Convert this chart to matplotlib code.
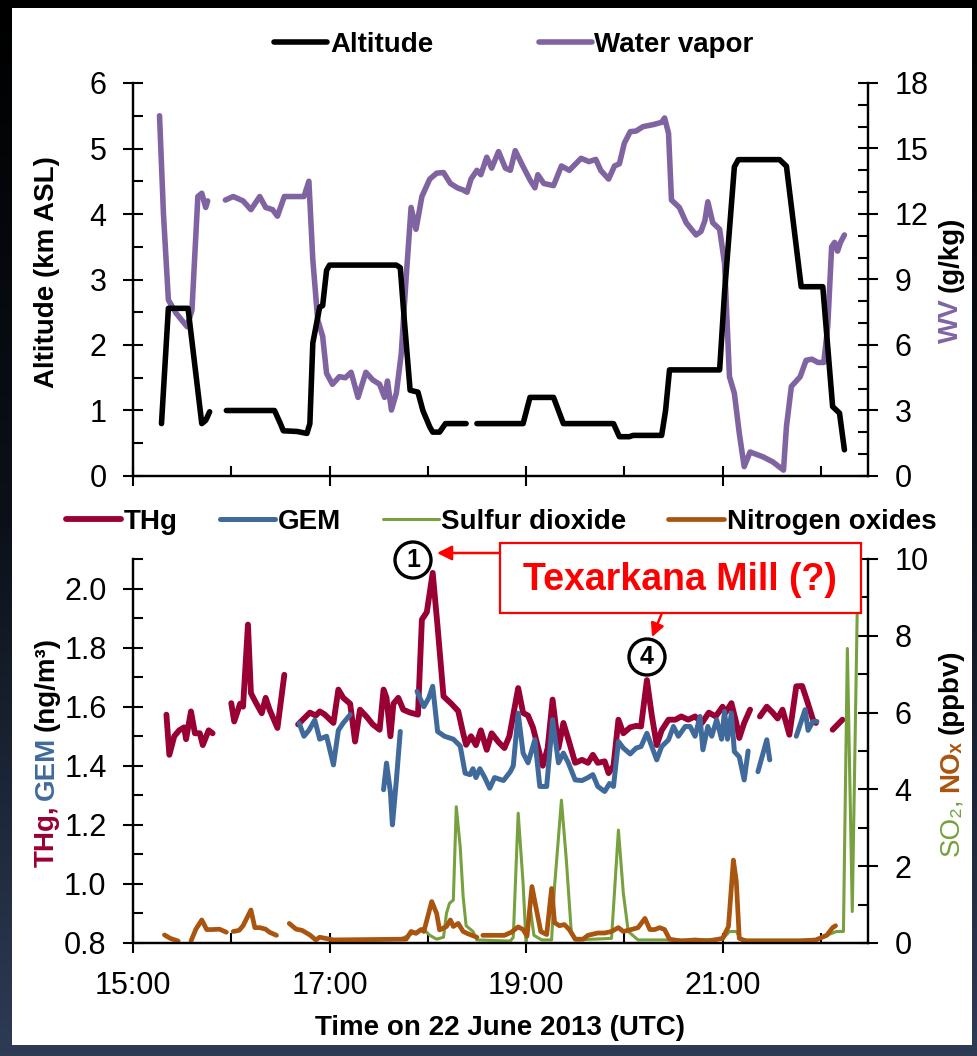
import numpy as np
import matplotlib
matplotlib.use('Agg')
import matplotlib.pyplot as plt
from matplotlib import patches
from matplotlib.colors import LinearSegmentedColormap
from matplotlib.ticker import MultipleLocator

plt.rcParams['font.family'] = ['Liberation Sans', 'DejaVu Sans']

nan = np.nan

# time in decimal hours (UTC), nan = gap in the record
alt_t = [15.29, 15.36, 15.40, 15.56, 15.70, 15.74, 15.78, 15.86,
         15.95, 16.44, 16.50, 16.53, 16.67, 16.77, 16.80, 16.83, 16.90, 16.93, 16.97, 17.00,
         17.68, 17.72, 17.76, 17.82, 17.90, 17.95, 18.02, 18.05, 18.12, 18.18, 18.39, 18.45,
         18.50, 18.97, 19.04, 19.28, 19.38, 19.89, 19.95, 20.05, 20.09, 20.38, 20.42, 20.46,
         20.97, 21.02, 21.12, 21.16, 21.58, 21.65, 21.80, 22.02, 22.12, 22.19, 22.24]
alt_v = [0.80, 2.56, 2.56, 2.56, 0.80, 0.85, 0.98, nan,
         1.00, 1.00, 0.80, 0.69, 0.68, 0.65, 0.80, 2.03, 2.58, 2.60, 3.14, 3.22,
         3.22, 3.18, 2.40, 1.31, 1.28, 1.00, 0.75, 0.67, 0.67, 0.80, 0.80, nan,
         0.80, 0.80, 1.20, 1.20, 0.80, 0.80, 0.60, 0.60, 0.62, 0.62, 1.00, 1.62,
         1.62, 2.80, 4.72, 4.83, 4.83, 4.73, 2.89, 2.89, 1.06, 0.96, 0.40]

wv_t = [15.27, 15.31, 15.36, 15.44, 15.55, 15.60, 15.66, 15.70, 15.74, 15.76, 15.85,
        15.94, 16.02, 16.12, 16.20, 16.29, 16.35, 16.42, 16.47, 16.54, 16.62, 16.69, 16.74,
        16.79, 16.83, 16.88, 16.93, 16.97, 17.03, 17.10, 17.16, 17.22, 17.29, 17.37, 17.44,
        17.51, 17.56, 17.59, 17.63, 17.68, 17.73, 17.78, 17.83, 17.88, 17.94, 18.02, 18.09,
        18.16, 18.23, 18.30, 18.36, 18.40, 18.44, 18.50, 18.54, 18.60, 18.65, 18.72, 18.79,
        18.84, 18.89, 18.97, 19.04, 19.09, 19.12, 19.18, 19.28, 19.36, 19.44, 19.56, 19.64,
        19.71, 19.76, 19.84, 19.90, 19.95, 20.00, 20.06, 20.12, 20.19, 20.30, 20.38, 20.41,
        20.45, 20.48, 20.56, 20.63, 20.73, 20.78, 20.82, 20.85, 20.90, 20.97, 21.02, 21.07,
        21.12, 21.17, 21.22, 21.28, 21.41, 21.51, 21.62, 21.65, 21.70, 21.79, 21.85, 21.91,
        21.97, 22.03, 22.07, 22.11, 22.14, 22.17, 22.20, 22.24]
wv_v = [16.5, 12.0, 8.06, 7.45, 6.84, 7.6, 12.8, 12.95, 12.3, 12.6, nan,
        12.64, 12.8, 12.6, 12.2, 12.8, 12.3, 12.2, 11.9, 12.8, 12.8, 12.8, 12.8,
        13.5, 9.9, 7.15, 6.4, 4.7, 4.2, 4.55, 4.5, 4.75, 3.6, 4.75, 4.4,
        4.2, 3.6, 4.35, 3.02, 3.8, 5.6, 9.1, 12.3, 11.3, 12.8, 13.6, 13.87,
        13.9, 13.4, 13.2, 13.1, 13.0, 13.6, 14.0, 13.8, 14.6, 14.1, 14.86, 14.1,
        14.0, 14.9, 14.17, 13.56, 13.2, 13.8, 13.4, 13.3, 14.2, 14.0, 14.55, 14.4,
        14.5, 14.0, 13.6, 14.2, 14.3, 15.24, 15.77, 15.8, 16.0, 16.1, 16.2, 16.4,
        15.7, 12.64, 12.3, 11.6, 11.04, 11.2, 11.7, 12.56, 11.6, 11.3, 9.74, 4.55,
        3.79, 1.96, 0.43, 1.1, 0.88, 0.65, 0.27, 2.26, 4.1, 4.55, 5.3, 5.35,
        5.2, 5.2, 6.84, 10.5, 10.7, 10.3, 10.7, 11.04]

thg_t = [15.34, 15.37, 15.42, 15.47, 15.52, 15.54, 15.59, 15.63, 15.68, 15.71, 15.77, 15.81, 15.9,
         16.00, 16.03, 16.09, 16.12, 16.17, 16.20, 16.24, 16.31, 16.35, 16.39, 16.47, 16.54, 16.6,
         16.68, 16.74, 16.80, 16.86, 16.90, 16.95, 17.04, 17.09, 17.14, 17.21, 17.26, 17.31,
         17.38, 17.44, 17.51, 17.55, 17.58, 17.62, 17.65, 17.70, 17.75, 17.82, 17.90, 17.94,
         17.99, 18.05, 18.10, 18.16, 18.24, 18.31, 18.36, 18.39, 18.44, 18.49, 18.54, 18.60,
         18.65, 18.72, 18.78, 18.83, 18.92, 18.97, 19.02, 19.07, 19.12, 19.17, 19.22, 19.27,
         19.33, 19.38, 19.43, 19.50, 19.57, 19.63, 19.68, 19.73, 19.80, 19.84, 19.89, 19.94,
         19.99, 20.06, 20.12, 20.17, 20.23, 20.28, 20.33, 20.38, 20.45, 20.52, 20.58, 20.65,
         20.72, 20.79, 20.86, 20.93, 21.00, 21.03, 21.09, 21.14, 21.17, 21.22, 21.28, 21.33,
         21.38, 21.45, 21.51, 21.56, 21.61, 21.68, 21.75, 21.81, 21.86, 21.92, 21.95, 22.05,
         22.12, 22.22]
thg_v = [1.573, 1.437, 1.50, 1.52, 1.53, 1.49, 1.584, 1.51, 1.51, 1.47, 1.52, 1.51, nan,
         1.612, 1.55, 1.61, 1.60, 1.878, 1.646, 1.62, 1.578, 1.63, 1.59, 1.528, 1.708, nan,
         1.54, 1.56, 1.58, 1.57, 1.584, 1.574, 1.545, 1.658, 1.63, 1.61, 1.482, 1.59,
         1.565, 1.54, 1.522, 1.658, 1.63, 1.50, 1.61, 1.63, 1.59, 1.58, 1.573, 1.895,
         1.92, 2.053, 1.87, 1.635, 1.61, 1.585, 1.51, 1.471, 1.50, 1.47, 1.52, 1.454,
         1.51, 1.48, 1.46, 1.50, 1.663, 1.579, 1.57, 1.53, 1.465, 1.40, 1.46, 1.624,
         1.46, 1.545, 1.49, 1.41, 1.42, 1.41, 1.437, 1.41, 1.415, 1.375, 1.40, 1.556,
         1.51, 1.53, 1.535, 1.533, 1.69, 1.57, 1.47, 1.52, 1.556, 1.556, 1.567, 1.556,
         1.567, 1.545, 1.58, 1.567, 1.60, 1.58, 1.612, 1.545, 1.494, 1.545, 1.59, nan,
         1.567, 1.60, 1.58, 1.56, 1.59, 1.505, 1.669, 1.67, 1.62, 1.556, 1.545, nan,
         1.522, 1.556]

gem_t = [16.69, 16.74, 16.79, 16.85, 16.90, 16.97, 17.04, 17.09, 17.14, 17.21, 17.4,
         17.55, 17.58, 17.62, 17.64, 17.68, 17.72, 17.8,
         17.89, 17.96, 18.01, 18.05, 18.10, 18.17, 18.26, 18.33, 18.38, 18.43, 18.46, 18.49,
         18.53, 18.58, 18.63, 18.68, 18.77, 18.84, 18.87, 18.92, 18.97, 19.02, 19.09, 19.14,
         19.21, 19.27, 19.33, 19.38, 19.43, 19.50, 19.57, 19.63, 19.68, 19.73, 19.80, 19.85,
         19.89, 19.94, 19.99, 20.06, 20.12, 20.17, 20.23, 20.28, 20.33, 20.38, 20.45, 20.50,
         20.55, 20.62, 20.67, 20.72, 20.77, 20.80, 20.85, 20.89, 20.94, 20.99, 21.02, 21.05,
         21.09, 21.12, 21.17, 21.22, 21.26, 21.31,
         21.36, 21.45, 21.48, 21.6,
         21.75, 21.80, 21.84, 21.87, 21.92, 21.96]
gem_v = [1.545, 1.50, 1.52, 1.555, 1.49, 1.50, 1.403, 1.52, 1.545, 1.573, nan,
         1.319, 1.409, 1.31, 1.20, 1.35, 1.516, nan,
         1.652, 1.60, 1.63, 1.669, 1.516, 1.50, 1.49, 1.467, 1.375, 1.37, 1.39, 1.36,
         1.39, 1.36, 1.324, 1.36, 1.35, 1.38, 1.40, 1.578, 1.443, 1.41, 1.488, 1.33,
         1.33, 1.556, 1.41, 1.443, 1.41, 1.352, 1.35, 1.36, 1.37, 1.33, 1.313, 1.34,
         1.33, 1.482, 1.46, 1.44, 1.46, 1.465, 1.51, 1.465, 1.42, 1.465, 1.488, 1.533,
         1.50, 1.533, 1.533, 1.50, 1.567, 1.454, 1.533, 1.50, 1.556, 1.49, 1.584, 1.49,
         1.578, 1.448, 1.43, 1.352, 1.45, nan,
         1.38, 1.488, 1.42, nan,
         1.50, 1.55, 1.59, 1.52, 1.55, 1.55]

so2_t = [17.30, 17.72, 17.89, 17.95, 18.02, 18.09, 18.16, 18.19, 18.22, 18.26, 18.29, 18.33,
         18.36, 18.39, 18.46, 18.50, 18.84, 18.87, 18.92, 18.97, 19.00, 19.04, 19.08, 19.16,
         19.26, 19.29, 19.36, 19.41, 19.46, 19.51, 19.87, 19.94, 19.99, 20.04, 20.14, 20.72,
         21.00, 21.07, 21.14, 21.19, 21.95, 22.06, 22.16, 22.23, 22.27, 22.32, 22.37, 22.39]
so2_v = [0.05, 0.10, 0.30, 0.38, 0.20, 0.10, 0.15, 0.77, 1.03, 1.12, 3.55, 2.50,
         1.20, 0.45, 0.30, 0.08, 0.05, 0.15, 3.38, 1.55, 0.00, 0.97, 0.20, 0.08,
         0.08, 1.47, 3.72, 2.16, 0.30, 0.08, 0.12, 2.94, 1.30, 0.30, 0.08, 0.08,
         0.10, 0.30, 0.30, 0.08, 0.08, 0.20, 0.30, 0.30, 7.67, 0.82, 8.60, 10.0]

nox_t = [15.32, 15.38, 15.46, 15.52,
         15.59, 15.64, 15.70, 15.75, 15.81, 15.88, 15.95, 15.98,
         16.02, 16.08, 16.12, 16.20, 16.24, 16.29, 16.35, 16.39, 16.46, 16.52,
         16.59, 16.66, 16.72, 16.80, 16.86, 16.90, 17.04, 17.78, 17.83, 17.88, 17.93, 17.96,
         18.04, 18.09, 18.12, 18.19, 18.23, 18.26, 18.31, 18.36, 18.40, 18.50, 18.53,
         18.56, 18.70, 18.78, 18.85, 18.92, 18.97, 19.01, 19.06, 19.10, 19.15, 19.21, 19.26,
         19.29, 19.34, 19.39, 19.44, 19.50, 19.58, 19.63, 19.73, 19.80, 19.87, 19.94, 19.99,
         20.07, 20.14, 20.21, 20.26, 20.31, 20.36, 20.41, 20.46, 20.58, 20.72, 20.85, 21.00,
         21.06, 21.11, 21.14, 21.17, 21.24, 21.78, 21.95, 22.06, 22.12, 22.15]
nox_v = [0.21, 0.12, 0.05, nan,
         0.05, 0.36, 0.60, 0.35, 0.35, 0.36, 0.28, nan,
         0.30, 0.33, 0.45, 0.86, 0.40, 0.40, 0.36, 0.28, 0.20, nan,
         0.51, 0.36, 0.33, 0.21, 0.08, 0.15, 0.08, 0.10, 0.30, 0.25, 0.35, 0.30,
         1.08, 0.77, 0.34, 0.43, 0.60, 0.43, 0.51, 0.30, 0.25, 0.15, nan,
         0.20, 0.20, 0.20, 0.28, 0.42, 0.35, 0.18, 1.47, 0.94, 0.30, 0.22, 1.42,
         0.53, 0.45, 0.48, 0.35, 0.10, 0.10, 0.20, 0.26, 0.26, 0.30, 0.40, 0.30,
         0.35, 0.40, 0.64, 0.35, 0.35, 0.40, 0.35, 0.10, 0.05, 0.08, 0.05, 0.12,
         0.43, 2.16, 1.60, 0.12, 0.05, 0.05, 0.08, 0.20, 0.40, 0.45]

time_ticks = [15, 17, 19, 21]
time_labels = ['15:00', '17:00', '19:00', '21:00']

C_THG = '#990033'
C_GEM = '#3f6a9b'
C_SO2 = '#77a03e'
C_NOX = '#a9540f'
C_WV = '#8064a2'

W, H = 977, 1056


def fx(px):
    return px / W


def fy(py):
    return 1 - py / H


fig = plt.figure(figsize=(W / 100, H / 100), dpi=100)

# dark slide background with white panel
bg = fig.add_axes([0, 0, 1, 1], zorder=-5)
grad = np.linspace(0, 1, 256).reshape(-1, 1)
cmap = LinearSegmentedColormap.from_list('bg', ['#000000', '#0c1119', '#2d3b54'])
bg.imshow(grad, aspect='auto', cmap=cmap, extent=[0, 1, 0, 1], origin='upper')
bg.add_patch(patches.Rectangle((fx(12), fy(1045)), fx(972) - fx(12), fy(8) - fy(1045),
                               transform=bg.transAxes, fc='white', ec='none'))
bg.set_xlim(0, 1)
bg.set_ylim(0, 1)
bg.axis('off')

ax1 = fig.add_axes([fx(133), fy(476), fx(868) - fx(133), fy(83) - fy(476)])
ax1r = ax1.twinx()
ax2 = fig.add_axes([fx(133), fy(943), fx(868) - fx(133), fy(559) - fy(943)])
ax2r = ax2.twinx()

lkw = dict(solid_capstyle='round', solid_joinstyle='round')
l_alt, = ax1.plot(alt_t, alt_v, color='black', lw=4.0, **lkw)
l_wv, = ax1r.plot(wv_t, wv_v, color=C_WV, lw=4.0, **lkw)
ax1.set_zorder(ax1r.get_zorder() + 1)
ax1.patch.set_visible(False)

l_thg, = ax2.plot(thg_t, thg_v, color=C_THG, lw=4.2, **lkw)
l_gem, = ax2.plot(gem_t, gem_v, color=C_GEM, lw=3.6, **lkw)
l_so2, = ax2r.plot(so2_t, so2_v, color=C_SO2, lw=2.2, **lkw)
l_nox, = ax2r.plot(nox_t, nox_v, color=C_NOX, lw=3.4, **lkw)

for a in (ax1, ax1r, ax2, ax2r):
    a.spines['top'].set_visible(False)
    for s in a.spines.values():
        s.set_linewidth(1.6)
    a.tick_params(which='major', direction='inout', length=14, width=1.5,
                  labelsize=22, pad=12)
    a.tick_params(which='minor', direction='in', length=7, width=1.5)

for a in (ax1, ax2):
    a.set_xlim(15, 22.48)
    a.set_xticks(time_ticks)
    a.xaxis.set_minor_locator(MultipleLocator(1))
ax1.set_xticklabels([])
ax2.set_xticklabels(time_labels)
ax2.tick_params(axis='x', pad=13)

ax1.set_ylim(0, 6)
ax1.yaxis.set_major_locator(MultipleLocator(1))
ax1.yaxis.set_minor_locator(MultipleLocator(0.5))
ax1r.set_ylim(0, 18)
ax1r.yaxis.set_major_locator(MultipleLocator(3))
ax1r.yaxis.set_minor_locator(MultipleLocator(1))

ax2.set_ylim(0.8, 2.1)
ax2.set_yticks([0.8, 1.0, 1.2, 1.4, 1.6, 1.8, 2.0])
ax2.set_yticklabels(['0.8', '1.0', '1.2', '1.4', '1.6', '1.8', '2.0'])
ax2.yaxis.set_minor_locator(MultipleLocator(0.1))
ax2r.set_ylim(0, 10)
ax2r.yaxis.set_major_locator(MultipleLocator(2))
ax2r.yaxis.set_minor_locator(MultipleLocator(1))

# legends
fig.legend([l_alt, l_wv], ['Altitude', 'Water vapor'], loc='center',
           bbox_to_anchor=(fx(514), fy(45)), ncol=2, frameon=False,
           prop={'weight': 'bold', 'size': 20}, handlelength=1.9,
           handletextpad=0.1, columnspacing=3.8)
fig.legend([l_thg, l_gem, l_so2, l_nox], ['THg', 'GEM', 'Sulfur dioxide', 'Nitrogen oxides'],
           loc='center', bbox_to_anchor=(fx(501), fy(522)), ncol=4, frameon=False,
           prop={'weight': 'bold', 'size': 20}, handlelength=2.0,
           handletextpad=0.1, columnspacing=1.5)

# axis labels
renderer = fig.canvas.get_renderer()


def vlabel(xp, yp, parts, size=20, gap=6):
    texts = []
    for s, c, w in parts:
        texts.append(fig.text(fx(xp), 0.5, s, color=c, weight=w, size=size,
                              rotation=90, ha='center', va='bottom'))
    hs = [t.get_window_extent(renderer).height for t in texts]
    total = sum(hs) + gap * (len(hs) - 1)
    y = (H - yp) - total / 2
    for t, h in zip(texts, hs):
        t.set_position((fx(xp), y / H))
        y += h + gap


vlabel(47, 272, [('Altitude (km ASL)', 'black', 'bold')])
vlabel(951, 280, [('WV', C_WV, 'bold'), ('(g/kg)', 'black', 'bold')])
vlabel(47, 752, [('THg,', C_THG, 'bold'), ('GEM', C_GEM, 'bold'),
                 ('(ng/m\u00b3)', 'black', 'bold')])
vlabel(951, 753, [('SO\u2082,', C_SO2, 'normal'), ('NO\u2093', C_NOX, 'bold'),
                  ('(ppbv)', 'black', 'bold')])
fig.text(fx(500), fy(1028), 'Time on 22 June 2013 (UTC)', ha='center', va='center',
         weight='bold', size=20)

# annotations
box = patches.Rectangle((fx(500), fy(613)), fx(861) - fx(500), fy(543) - fy(613),
                        transform=fig.transFigure, fc='white', ec='red', lw=1.6, zorder=5)
fig.add_artist(box)
fig.text(fx(680), fy(580), 'Texarkana Mill (?)', color='red', weight='bold', size=27,
         ha='center', va='center', zorder=6)
fig.add_artist(patches.FancyArrowPatch((fx(500), fy(553)), (fx(437), fy(553)),
                                       transform=fig.transFigure, arrowstyle='-|>',
                                       mutation_scale=22, color='red', lw=1.8, zorder=6,
                                       shrinkA=0, shrinkB=0))
fig.add_artist(patches.FancyArrowPatch((fx(662), fy(613)), (fx(652), fy(637)),
                                       transform=fig.transFigure, arrowstyle='-|>',
                                       mutation_scale=20, color='red', lw=1.8, zorder=6,
                                       shrinkA=0, shrinkB=0))
for cx, cy, s in [(413, 560, '1'), (647, 657, '4')]:
    fig.add_artist(patches.Circle((cx / 100, (H - cy) / 100), 0.18,
                                  transform=fig.dpi_scale_trans, fc='white', ec='black',
                                  lw=2.4, zorder=6))
    fig.text(fx(cx), fy(cy), s, ha='center', va='center', weight='bold', size=18, zorder=7)

fig.savefig('out.png', dpi=100)
